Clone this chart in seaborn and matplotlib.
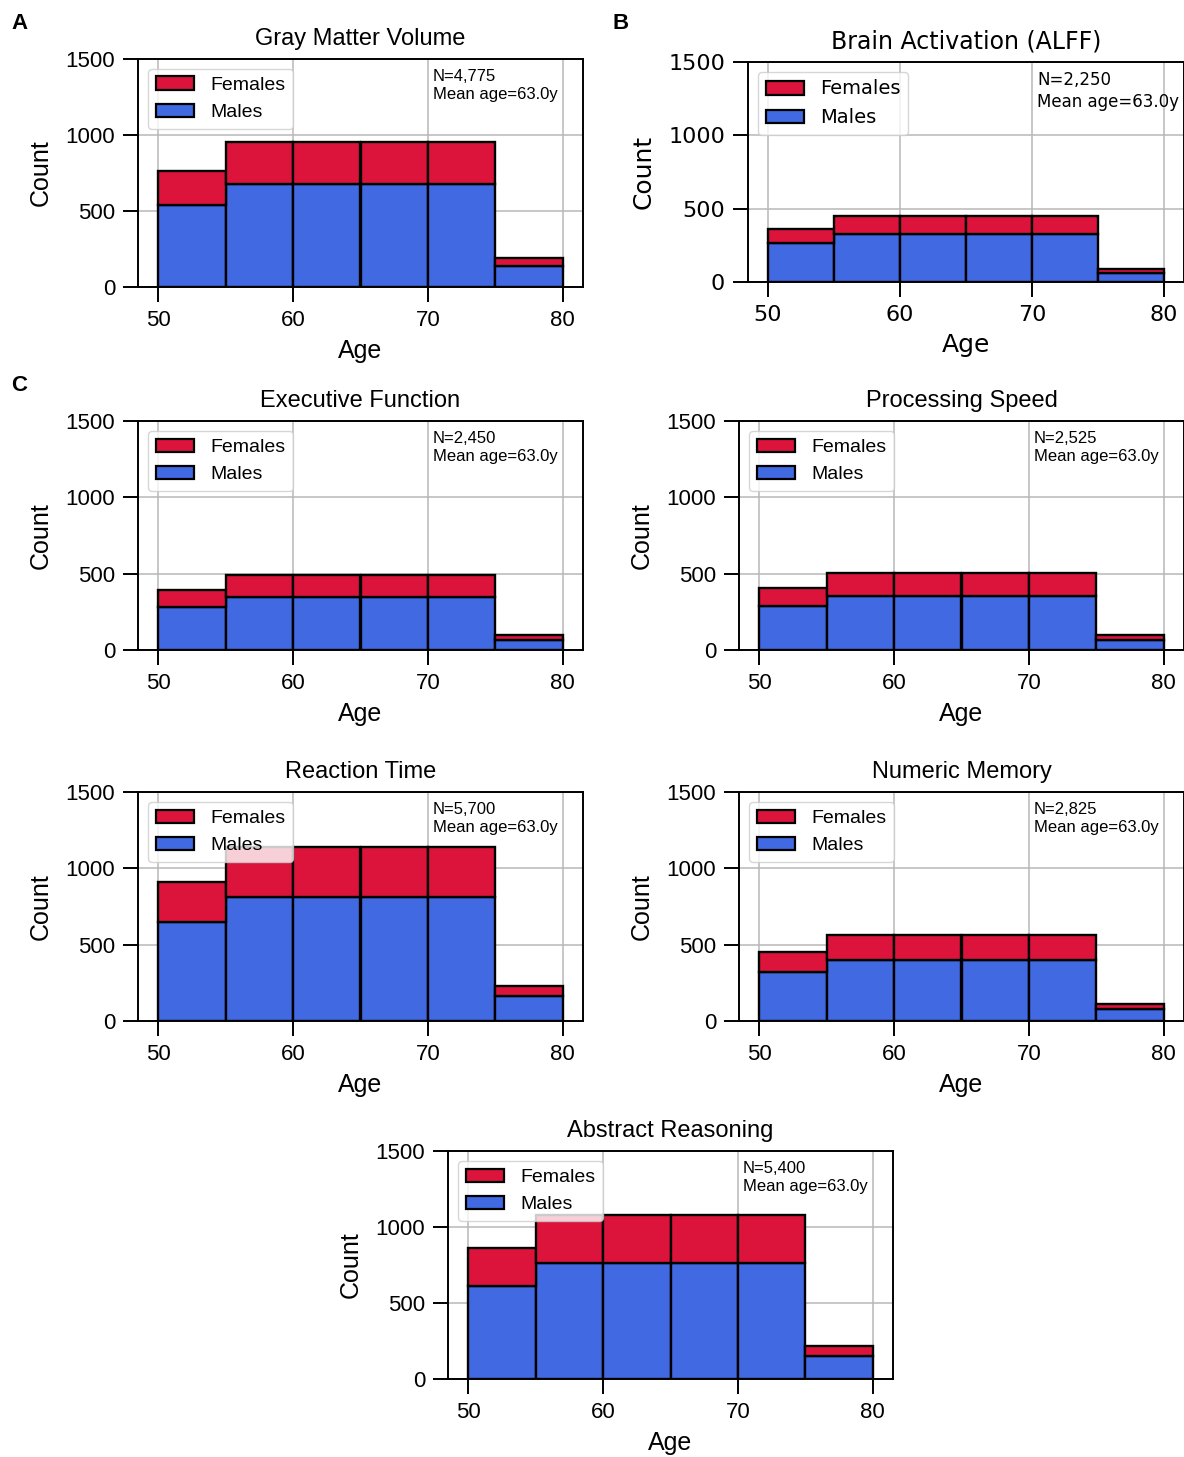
import numpy as np
import pandas as pd
import matplotlib
matplotlib.use("Agg")
import matplotlib.pyplot as plt
from matplotlib.patches import Patch
import seaborn as sns

# bins of 5 years
bin_edges = [50, 55, 60, 65, 70, 75, 80]
bin_mids = [52.5, 57.5, 62.5, 67.5, 72.5, 77.5]

# counts per bin
gmv_males = [540, 680, 680, 680, 680, 136]
gmv_females = [224, 275, 275, 275, 275, 55]

alff_males = [265, 328, 328, 328, 328, 62]
alff_females = [95, 122, 122, 122, 122, 28]

exec_males = [280, 346, 346, 346, 346, 66]
exec_females = [112, 144, 144, 144, 144, 32]

speed_males = [285, 355, 355, 355, 355, 68]
speed_females = [119, 150, 150, 150, 150, 33]

rt_males = [648, 812, 812, 812, 812, 162]
rt_females = [264, 328, 328, 328, 328, 66]

memory_males = [318, 398, 398, 398, 398, 78]
memory_females = [134, 167, 167, 167, 167, 35]

abstract_males = [612, 766, 766, 766, 766, 152]
abstract_females = [252, 314, 314, 314, 314, 64]

titles = ["Gray Matter Volume", "Brain Activation (ALFF)", "Executive Function",
          "Processing Speed", "Reaction Time", "Numeric Memory", "Abstract Reasoning"]
n_labels = ["4,775", "2,250", "2,450", "2,525", "5,700", "2,825", "5,400"]
mean_ages = [63.0, 63.0, 63.0, 63.0, 63.0, 63.0, 63.0]

colors = {"Females": "#DC143C", "Males": "#4169E1"}

sns.set_theme(style="ticks")
plt.rcParams["font.family"] = ["Liberation Sans", "DejaVu Sans"]
for key in ["text.color", "axes.labelcolor", "xtick.color", "ytick.color", "axes.edgecolor"]:
    plt.rcParams[key] = "black"

W, H = 1184, 1457
fig = plt.figure(figsize=(W / 100, H / 100), dpi=100)


def px_axes(left, right, top, bottom):
    return fig.add_axes([left / W, 1 - bottom / H, (right - left) / W, (bottom - top) / H])


def draw_panel(ax, males, females, title, n_label, mean_age, family="Liberation Sans"):
    df = pd.DataFrame({
        "age": bin_mids * 2,
        "count": list(females) + list(males),
        "sex": ["Females"] * 6 + ["Males"] * 6,
    })
    ax.grid(True, color="#b8b8b8", linewidth=1.1)
    ax.set_axisbelow(True)
    sns.histplot(data=df, x="age", weights="count", hue="sex", hue_order=["Females", "Males"],
                 multiple="stack", bins=bin_edges, palette=colors, alpha=1,
                 edgecolor="black", linewidth=1.7, legend=False, ax=ax)
    ax.set_xlim(48.5, 81.5)
    ax.set_ylim(0, 1500)
    ax.set_xticks([50, 60, 70, 80])
    ax.set_yticks([0, 500, 1000, 1500])
    ax.tick_params(length=11, width=1.4, pad=5.5, labelsize=16, labelfontfamily=family,
                   colors="black")
    for s in ax.spines.values():
        s.set_visible(True)
        s.set_linewidth(1.4)
        s.set_color("black")
    ax.set_title(title, fontsize=17, family=family, pad=10, color="black")
    ax.set_xlabel("Age", fontsize=18, family=family, labelpad=6, color="black")
    ax.set_ylabel("Count", fontsize=18, family=family, labelpad=9, color="black")
    handles = [Patch(facecolor=colors["Females"], edgecolor="black", linewidth=1.6, label="Females"),
               Patch(facecolor=colors["Males"], edgecolor="black", linewidth=1.6, label="Males")]
    leg = ax.legend(handles=handles, loc="upper left", prop={"family": family, "size": 14})
    for t in leg.get_texts():
        t.set_color("black")
    ax.text(0.663, 0.958, f"N={n_label}\nMean age={mean_age:.1f}y", transform=ax.transAxes,
            ha="left", va="top", fontsize=12, family=family, linespacing=1.25, color="black")


panels = [
    ((138, 583, 59, 287), gmv_males, gmv_females),
    ((748, 1184, 62, 282), alff_males, alff_females),
    ((138, 583, 421, 650), exec_males, exec_females),
    ((739, 1184, 421, 650), speed_males, speed_females),
    ((138, 583, 792, 1021), rt_males, rt_females),
    ((739, 1184, 792, 1021), memory_males, memory_females),
    ((448, 893, 1151, 1379), abstract_males, abstract_females),
]

for i, (box, males, females) in enumerate(panels):
    ax = px_axes(*box)
    fam = "DejaVu Sans" if i == 1 else "Liberation Sans"
    draw_panel(ax, males, females, titles[i], n_labels[i], mean_ages[i], family=fam)

for letter, x, y in [("A", 11, 13), ("B", 613, 13), ("C", 11, 375)]:
    fig.text(x / W, 1 - y / H, letter, fontsize=16, fontweight="bold", va="top", ha="left",
             color="black")

fig.savefig("out.png", dpi=100)
